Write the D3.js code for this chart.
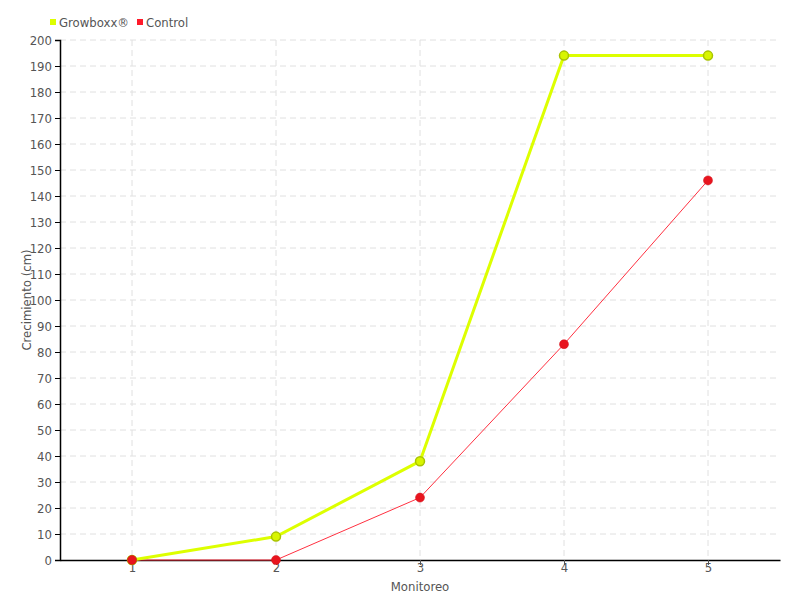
<!DOCTYPE html>
<html><head><meta charset="utf-8">
<script src="https://cdn.jsdelivr.net/npm/d3@7/dist/d3.min.js"></script>
<style>
body{margin:0;background:#fff;}
text{font-family:"DejaVu Sans Condensed","Liberation Sans Narrow",sans-serif;}
</style></head>
<body><svg id="c" width="800" height="600"></svg>
<script>
const categories = [1, 2, 3, 4, 5];
const growboxx = [0, 9, 38, 194, 194];
const control = [0, 0, 24, 83, 146];
const yTicks = d3.range(0, 201, 10);
const seriesNames = ["Growboxx®", "Control"];

const svg = d3.select("#c");
const m = {l:60, r:20, t:40, b:40};
const W = 800, H = 600;
const x = d3.scaleLinear().domain([0.5, 5.5]).range([m.l, W - m.r]);
const y = d3.scaleLinear().domain([0, 200]).range([H - m.b, m.t]);
const font = '"DejaVu Sans Condensed","Liberation Sans Narrow",sans-serif';
const fs = "13px";

// grid
const g = svg.append("g");
g.selectAll("line.h").data(yTicks.filter(d=>d>0)).join("line")
  .attr("x1", m.l).attr("x2", W - m.r)
  .attr("y1", d=>y(d)).attr("y2", d=>y(d))
  .attr("stroke", "#e0e0e0").attr("stroke-dasharray", "6,4");
g.selectAll("line.v").data(categories).join("line")
  .attr("x1", d=>x(d)).attr("x2", d=>x(d))
  .attr("y1", m.t).attr("y2", H - m.b)
  .attr("stroke", "#e0e0e0").attr("stroke-dasharray", "6,4");

// y axis
const ya = svg.append("g").attr("transform", `translate(${m.l},0)`)
  .call(d3.axisLeft(y).tickValues(yTicks).tickSize(5).tickPadding(3).tickFormat(d3.format("d")));
ya.select(".domain").attr("stroke", "#000").attr("stroke-width", 1.5);
ya.selectAll(".tick line").attr("stroke", "#000");
ya.selectAll("text").attr("fill", "#555").style("font-size", fs).style("font-family", font);

// x axis
const xa = svg.append("g").attr("transform", `translate(0,${H - m.b})`)
  .call(d3.axisBottom(x).tickValues(categories).tickSize(5).tickPadding(-2).tickSizeOuter(0).tickFormat(d3.format("d")));
xa.select(".domain").attr("stroke", "#000").attr("stroke-width", 1.5);
xa.selectAll(".tick line").attr("stroke", "#555");
xa.selectAll("text").attr("fill", "#555").style("font-size", fs).style("font-family", font);

// axis titles
svg.append("text").attr("x", (m.l + W - m.r)/2).attr("y", 591)
  .attr("text-anchor", "middle").attr("fill", "#555").style("font-size", fs).text("Monitoreo");
svg.append("text").attr("transform", `translate(31,${(m.t + H - m.b)/2}) rotate(-90)`)
  .attr("text-anchor", "middle").attr("fill", "#555").style("font-size", fs).text("Crecimiento (cm)");

const line = d3.line().x((d,i)=>x(categories[i])).y(d=>y(d));

// control
svg.append("path").datum(control).attr("d", line).attr("fill", "none")
  .attr("stroke", "#ff3040").attr("stroke-width", 1);
// growboxx
svg.append("path").datum(growboxx).attr("d", line).attr("fill", "none")
  .attr("stroke", "#ddff00").attr("stroke-width", 3);
svg.selectAll("circle.g").data(growboxx).join("circle")
  .attr("cx", (d,i)=>x(categories[i])).attr("cy", d=>y(d)).attr("r", 4.5)
  .attr("fill", "#d8f500").attr("stroke", "#aac400").attr("stroke-width", 1.5);
svg.selectAll("circle.c").data(control).join("circle")
  .attr("cx", (d,i)=>x(categories[i])).attr("cy", d=>y(d)).attr("r", 4.5)
  .attr("fill", "#e8141e").attr("stroke", "#d01018").attr("stroke-width", 0.5);

// legend
const legendColors = ["#ddff00", "#ff1a2a"];
const lg = svg.append("g");
const lx = [50, 137];
seriesNames.forEach((n, i) => {
  lg.append("rect").attr("x", lx[i]).attr("y", 19).attr("width", 6).attr("height", 6).attr("fill", legendColors[i]);
  lg.append("text").attr("x", lx[i] + 9).attr("y", 27).attr("fill", "#555")
    .style("font-size", fs).text(n);
});
</script></body></html>
